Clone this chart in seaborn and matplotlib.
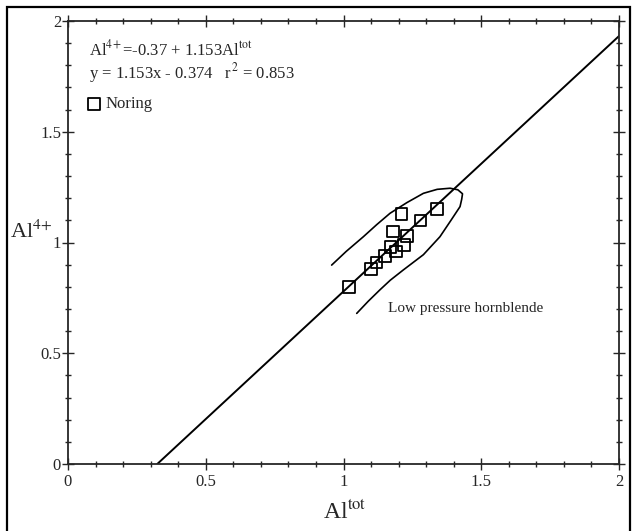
import matplotlib
matplotlib.use('Agg')
import matplotlib.pyplot as plt
import seaborn as sns
import pandas as pd
from matplotlib.ticker import MultipleLocator, FuncFormatter
from matplotlib.patches import Rectangle

# Noring samples
al_tot = [1.02, 1.10, 1.12, 1.15, 1.17, 1.19, 1.22, 1.23, 1.18, 1.21, 1.28, 1.34]
al_iv = [0.80, 0.88, 0.91, 0.94, 0.98, 0.96, 0.99, 1.03, 1.05, 1.13, 1.10, 1.15]

# regression line y = 1.153x - 0.374 (endpoints)
line_x = [0.324, 2.0]
line_y = [0.0, 1.932]

# low pressure hornblende envelope
env_x = [0.957, 1.01, 1.072, 1.12, 1.169, 1.23, 1.29, 1.34, 1.387, 1.415, 1.432, 1.429,
         1.423, 1.39, 1.35, 1.29, 1.217, 1.17, 1.132, 1.09, 1.048]
env_y = [0.898, 0.96, 1.026, 1.08, 1.132, 1.18, 1.222, 1.24, 1.245, 1.238, 1.22, 1.195,
         1.162, 1.10, 1.026, 0.945, 0.876, 0.83, 0.786, 0.735, 0.680]

df = pd.DataFrame({'Al_tot': al_tot, 'Al_iv': al_iv})

sns.set_style('ticks')
plt.rcParams['font.family'] = ['Liberation Serif', 'DejaVu Serif']
plt.rcParams['mathtext.fontset'] = 'stix'

fig = plt.figure(figsize=(6.32, 5.31), dpi=100)
ax = fig.add_axes([68 / 632, 1 - 464 / 531, 551 / 632, 443 / 531])

sns.lineplot(x=line_x, y=line_y, ax=ax, color='black', lw=1.4, sort=False, estimator=None)
sns.lineplot(x=env_x, y=env_y, ax=ax, color='black', lw=1.2, sort=False, estimator=None)
sns.scatterplot(data=df, x='Al_tot', y='Al_iv', ax=ax, marker='s', s=70,
                facecolor='none', edgecolor='black', linewidth=1.3, label='Noring')

ax.set_xlim(0, 2)
ax.set_ylim(0, 2)
ax.xaxis.set_major_locator(MultipleLocator(0.5))
ax.yaxis.set_major_locator(MultipleLocator(0.5))
ax.xaxis.set_minor_locator(MultipleLocator(0.1))
ax.yaxis.set_minor_locator(MultipleLocator(0.1))
fmt = FuncFormatter(lambda v, p: '%g' % v)
ax.xaxis.set_major_formatter(fmt)
ax.yaxis.set_major_formatter(fmt)
ax.tick_params(which='both', direction='inout', top=True, right=True, labelsize=12, width=1)
ax.tick_params(which='major', length=8)
ax.tick_params(which='minor', length=4)
ax.tick_params(axis='y', which='major', pad=1)
for s in ax.spines.values():
    s.set_linewidth(1.3)

ax.set_xlabel('')
ax.set_ylabel('')
fig.text(345 / 632, 1 - 512 / 531, r'Al$^{\mathrm{tot}}$', fontsize=17, ha='center', va='center')
fig.text(10 / 632, 1 - 232 / 531, r'Al$^{4\!+}$', fontsize=16, ha='left', va='center')

ax.text(0.075, 1.87, r'Al$^{4\!+}$=-0.37 + 1.153Al$^{\mathrm{tot}}$', fontsize=12, va='center')
ax.text(0.075, 1.765, r'y = 1.153x - 0.374   r$^{\,2}$ = 0.853', fontsize=12, va='center')
ax.text(1.16, 0.70, 'Low pressure hornblende', fontsize=11, va='center')

ax.legend(loc='upper left', bbox_to_anchor=(0.02, 0.845), frameon=False, fontsize=12,
          handletextpad=0.2, borderaxespad=0, handlelength=1.0)

fig.patches.append(Rectangle((7 / 632, -0.01), 623 / 632, 1 - 7 / 531 + 0.01,
                             transform=fig.transFigure, fill=False, lw=1.6,
                             edgecolor='black', clip_on=False))

plt.savefig('out.png', dpi=100)
